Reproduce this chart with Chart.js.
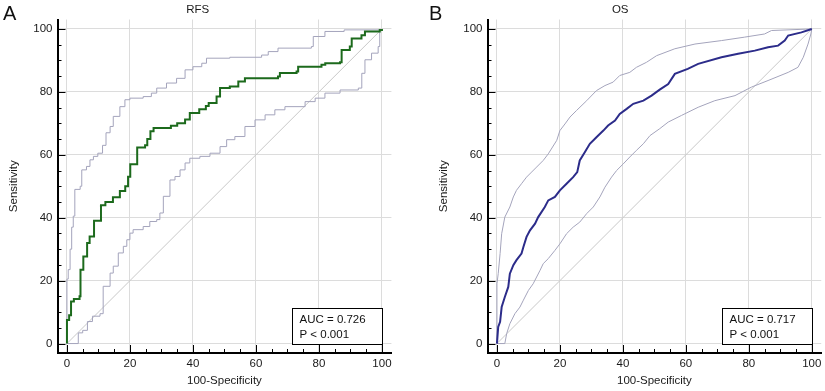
<!DOCTYPE html>
<html>
<head>
<meta charset="utf-8">
<script src="https://cdn.jsdelivr.net/npm/chart.js@4.4.1/dist/chart.umd.min.js"></script>
<style>
  html, body { margin: 0; padding: 0; background: #fff; }
  #page { position: relative; width: 825px; height: 391px; }
  .panel { position: absolute; top: 0; width: 410px; height: 391px; }
  #panelA { left: 0; }
  #panelB { left: 415px; }
</style>
</head>
<body>
<div id="page">
  <div class="panel" id="panelA"><canvas id="chartA"></canvas></div>
  <div class="panel" id="panelB"><canvas id="chartB"></canvas></div>
</div>
<script>
// tick values (both axes)
const majorTicks = [0, 20, 40, 60, 80, 100];
const minorTicks = [0, 5, 10, 15, 20, 25, 30, 35, 40, 45, 50, 55, 60, 65, 70, 75, 80, 85, 90, 95, 100];
const diagX = [0, 100];
const diagY = [0, 100];

// RFS - ROC curve + 95% CI bounds
const rfsFpr = [0, 0, 0.7, 1.3, 2.2, 4.0, 4.3, 5.2, 6.4, 7.2, 8.6, 10.8, 12.2, 14.6, 16.8, 18.5, 19.4, 20.1, 22.3, 24.8, 25.5, 26.5, 27.5, 33, 35, 37.5, 39, 42, 44.1, 45, 47.5, 48.6, 51.7, 54.4, 56.5, 67, 67.6, 72.9, 73.4, 80.8, 82, 86.7, 87.2, 89.8, 90.4, 93.5, 94.6, 99.3, 100];
const rfsSens = [0, 7.5, 9, 13.4, 14.2, 15, 23.5, 27.7, 32, 34, 39, 44, 45, 46.5, 48.5, 50, 53, 57, 62.3, 63, 65, 67.5, 68.5, 69.2, 70, 71.2, 73.3, 74.5, 75.5, 76.5, 78.5, 81.2, 81.7, 83.3, 84.3, 84.9, 86, 86.5, 88, 88.6, 89.1, 89.4, 93.3, 94.4, 97, 98, 99.2, 99.7, 100];
const rfsUpFpr = [0, 0, 0.4, 1, 1.5, 2, 2.5, 4.2, 4.7, 6.2, 7.3, 8.4, 9.8, 11.3, 12.4, 13.7, 14.7, 16.8, 18.4, 20, 24.2, 26.8, 28.5, 31.6, 34.8, 37.5, 40, 42.8, 44.3, 51.7, 61.8, 63.9, 67, 77.6, 78.2, 81.9, 88, 100];
const rfsUpSens = [0, 20.5, 23.5, 30, 37, 40.5, 49, 50, 55.2, 56.3, 58.4, 59.5, 60.5, 63, 67, 69, 72.2, 75.3, 77.5, 78, 78.5, 79.6, 81.2, 82.8, 84.3, 87, 88, 89.1, 90.7, 91, 91.7, 92.8, 93.9, 94.4, 97.6, 99.2, 99.7, 100];
const rfsLoFpr = [0, 3.6, 5, 6.5, 8.1, 10.5, 11.5, 13.7, 14.7, 16.3, 17.9, 19, 20, 21, 24.2, 26.3, 28.5, 29.5, 30.6, 32.7, 34.3, 35.9, 37.5, 39, 42.2, 45.4, 48.6, 50.7, 53.3, 56.5, 59.7, 62.9, 66, 69.2, 75.6, 78.8, 81.9, 86.7, 92.5, 93.6, 94.6, 96.7, 98.8, 99.3, 100];
const rfsLoSens = [0, 3.4, 4.2, 7, 8.7, 9.5, 18.2, 22.4, 24.6, 28.8, 30.9, 33, 35.1, 36.2, 37.2, 38.8, 39.4, 41.5, 46.8, 52, 53.1, 55.2, 57.4, 58.9, 59.5, 60.5, 62.6, 64.8, 65.8, 69, 71.1, 72.7, 74.3, 75.3, 76.9, 78, 79.6, 80.6, 81.2, 85.9, 90.2, 92.3, 94.4, 99.7, 100];

// OS - ROC curve + 95% CI bounds
const osFpr = [0, 0.4, 1, 1.5, 2.5, 3.6, 4.1, 5.2, 6.2, 7.8, 8.4, 9.4, 10.5, 12.1, 13.1, 15.2, 16.3, 18.4, 20, 22.1, 24.2, 25.5, 26.3, 27.9, 29.5, 31.6, 33.8, 35.3, 37.5, 39, 41.2, 43.3, 46.5, 49.1, 51.7, 54.4, 56.5, 60.6, 63.9, 71.3, 76.6, 81.9, 86.1, 89.3, 91.4, 92.5, 96.7, 100];
const osSens = [0, 5.3, 6.9, 11.6, 14.8, 18, 22.2, 24.9, 26.5, 28.6, 30.7, 33.9, 36, 38.1, 40.2, 43.4, 45.5, 46.6, 48.7, 50.8, 52.9, 54.5, 58.2, 60.8, 63.5, 65.6, 67.7, 69.3, 70.9, 73, 74.6, 76.2, 77.2, 78.8, 80.7, 82.5, 85.7, 87.3, 88.9, 91, 92.1, 93.1, 94.2, 94.7, 96.3, 97.9, 98.9, 100];
const osUpFpr = [0, 0, 0.4, 1, 1.5, 2.5, 4.1, 5.2, 6.2, 7.8, 9.4, 11, 12.6, 14.7, 16.3, 19, 20, 21.6, 23.2, 25.3, 28.5, 31.6, 34.3, 36.9, 39, 42.2, 44.3, 47.5, 50.7, 56.5, 62.9, 71.3, 78.7, 85, 87.2, 100];
const osUpSens = [0, 19, 22.2, 28.6, 34.9, 40.2, 43.4, 46.6, 48.7, 50.8, 52.9, 54.5, 56.1, 58.2, 60.3, 64.6, 67.7, 69.8, 72, 74.1, 77.2, 80.4, 82, 83.1, 85.2, 86.2, 87.8, 89.4, 91.5, 93.7, 95.2, 96.3, 97.4, 98.4, 99.5, 100];
const osLoFpr = [0, 2.5, 3.1, 4.1, 5.7, 7.3, 8.4, 10, 11.5, 13.7, 14.7, 16.3, 18.4, 20, 22.1, 24.2, 26.3, 28.5, 30.6, 32.7, 34.3, 36.4, 38, 40.1, 42.2, 44.3, 46.5, 48.6, 51.7, 54.4, 58.6, 63.9, 69.2, 75.6, 80.8, 86.1, 92.5, 95.6, 97.3, 98.8, 99.7, 100];
const osLoSens = [0, 0, 3.2, 6.3, 9.5, 11.6, 13.8, 16.9, 19, 23.3, 25.4, 27, 29.6, 31.7, 34.9, 37, 38.6, 41.3, 43.4, 46.6, 49.7, 52.9, 55, 57.1, 59.3, 61.4, 63.5, 66.1, 68.3, 70.4, 72.5, 75.1, 77.2, 78.8, 81.5, 83.6, 86.2, 87.8, 91, 95.2, 98.4, 100];

Chart.defaults.font.family = 'Arial, "Liberation Sans", sans-serif';
Chart.defaults.color = '#1a1a1a';

const toPoints = (xs, ys) => xs.map((x, i) => ({ x: x, y: ys[i] }));

// inward ticks, AUC box and panel letter
const rocExtras = {
    id: 'rocExtras',
    afterDraw(chart, args, opts) {
        const { ctx, chartArea, scales: { x, y } } = chart;
        ctx.save();
        ctx.strokeStyle = '#000';
        ctx.lineWidth = 1;
        ctx.beginPath();
        minorTicks.forEach(v => {
            const len = majorTicks.includes(v) ? 8 : 4;
            const px = Math.round(x.getPixelForValue(v)) + 0.5;
            ctx.moveTo(px, chartArea.bottom);
            ctx.lineTo(px, chartArea.bottom - len);
            const py = Math.round(y.getPixelForValue(v)) + 0.5;
            ctx.moveTo(chartArea.left, py);
            ctx.lineTo(chartArea.left + len, py);
        });
        ctx.stroke();

        // AUC box
        const bx0 = Math.round(x.getPixelForValue(71.5)) + 0.5;
        const bx1 = Math.round(x.getPixelForValue(100)) + 0.5;
        const by0 = Math.round(y.getPixelForValue(11.2)) + 0.5;
        const by1 = Math.round(y.getPixelForValue(0)) + 0.5;
        ctx.fillStyle = '#fff';
        ctx.fillRect(bx0, by0, bx1 - bx0, by1 - by0);
        ctx.strokeRect(bx0, by0, bx1 - bx0, by1 - by0);
        ctx.fillStyle = '#111';
        ctx.font = '11.5px Arial, "Liberation Sans", sans-serif';
        ctx.textBaseline = 'alphabetic';
        ctx.textAlign = 'left';
        ctx.fillText(opts.auc, bx0 + 7, by0 + 14.5);
        ctx.fillText(opts.p, bx0 + 7, by0 + 29);

        // panel letter
        ctx.font = '20px Arial, "Liberation Sans", sans-serif';
        ctx.fillText(opts.letter, opts.letterX, 19.5);
        ctx.restore();
    }
};

function drawRoc(canvasId, cfg) {
    const ctx = document.getElementById(canvasId).getContext('2d');
    const axisFont = { size: 11.5 };
    const scaleBase = {
        type: 'linear',
        min: -3,
        max: 103,
        afterBuildTicks: s => { s.ticks = majorTicks.map(v => ({ value: v })); },
        ticks: { font: axisFont, color: '#1a1a1a', maxRotation: 0, autoSkip: false },
        grid: { color: '#dcdcdc', lineWidth: 1, drawTicks: false },
        border: { display: true, color: '#000', width: 2 }
    };

    return new Chart(ctx, {
        type: 'line',
        data: {
            datasets: [
                {
                    data: toPoints(cfg.fpr, cfg.sens),
                    borderColor: cfg.color,
                    borderWidth: 2,
                    stepped: cfg.stepped,
                    pointRadius: 0
                },
                {
                    data: toPoints(cfg.upFpr, cfg.upSens),
                    borderColor: '#a4a4bc',
                    borderWidth: 1,
                    stepped: cfg.stepped,
                    pointRadius: 0
                },
                {
                    data: toPoints(cfg.loFpr, cfg.loSens),
                    borderColor: '#a4a4bc',
                    borderWidth: 1,
                    stepped: cfg.stepped,
                    pointRadius: 0
                },
                {
                    data: toPoints(diagX, diagY),
                    borderColor: '#c8c8c8',
                    borderWidth: 1,
                    pointRadius: 0
                }
            ]
        },
        options: {
            responsive: true,
            maintainAspectRatio: false,
            animation: false,
            layout: { padding: { left: 4, right: cfg.padRight, top: 0, bottom: 2 } },
            plugins: {
                legend: { display: false },
                tooltip: { enabled: false },
                title: {
                    display: true,
                    text: cfg.title,
                    color: '#1a1a1a',
                    font: { size: 11.5, weight: 'normal' },
                    padding: { top: 3, bottom: 2.7 }
                },
                rocExtras: { auc: cfg.auc, p: 'P < 0.001', letter: cfg.letter, letterX: cfg.letterX }
            },
            scales: {
                x: Object.assign({}, scaleBase, {
                    position: 'bottom',
                    afterFit: s => { s.height = 36; },
                    ticks: Object.assign({}, scaleBase.ticks, { padding: 3.5 }),
                    title: { display: true, text: '100-Specificity', font: axisFont, color: '#1a1a1a', padding: { top: 0, bottom: 1.5 } }
                }),
                y: Object.assign({}, scaleBase, {
                    position: 'left',
                    afterFit: s => { s.width = cfg.yWidth; },
                    ticks: Object.assign({}, scaleBase.ticks, { padding: 5 }),
                    title: { display: true, text: 'Sensitivity', font: axisFont, color: '#1a1a1a', padding: { top: cfg.yTitlePad, bottom: 0 } }
                })
            }
        },
        plugins: [rocExtras]
    });
}

document.addEventListener('DOMContentLoaded', () => {
    drawRoc('chartA', {
        title: 'RFS', letter: 'A', letterX: 3, auc: 'AUC = 0.726',
        fpr: rfsFpr, sens: rfsSens, upFpr: rfsUpFpr, upSens: rfsUpSens, loFpr: rfsLoFpr, loSens: rfsLoSens,
        color: '#1c6a1c', stepped: true,
        yWidth: 53.5, yTitlePad: 3, padRight: 18.6
    });
    drawRoc('chartB', {
        title: 'OS', letter: 'B', letterX: 14, auc: 'AUC = 0.717',
        fpr: osFpr, sens: osSens, upFpr: osUpFpr, upSens: osUpSens, loFpr: osLoFpr, loSens: osLoSens,
        color: '#2c2c8a', stepped: false,
        yWidth: 68.5, yTitlePad: 18, padRight: 3.6
    });
});
</script>
</body>
</html>
